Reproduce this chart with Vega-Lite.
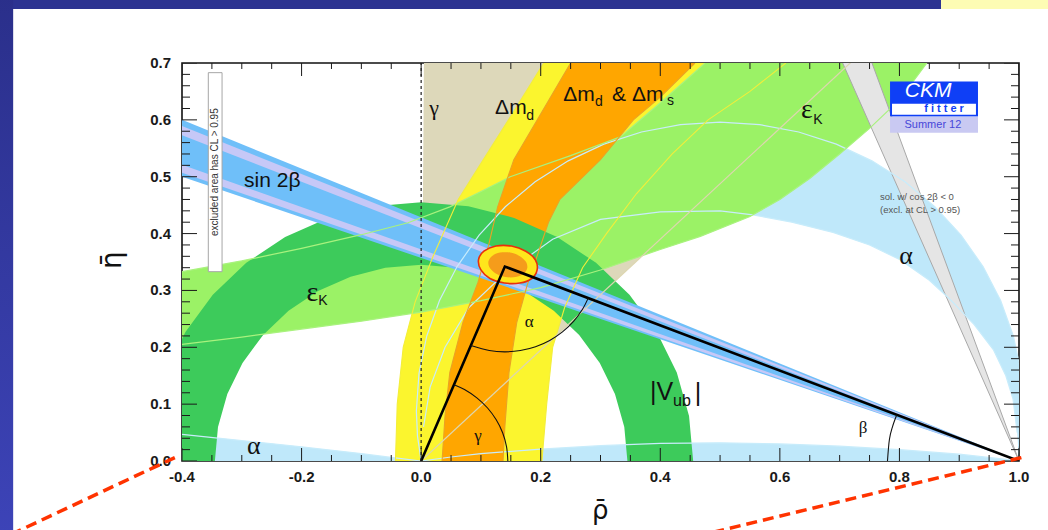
{
"$schema": "https://vega.github.io/schema/vega-lite/v6.json",
"width": 837,
"height": 398,
"autosize": {"type": "none"},
"padding": {"left": 182, "top": 63, "right": 29, "bottom": 69},
"background": "#ffffff",
"config": {"view": {"stroke": "#111111", "strokeWidth": 1.6}, "font": "Liberation Sans"},
"datasets": {
"bar": [{"x": -0.75, "x2": 0.8696, "y": 0.795, "y2": 0.83}],
"tab": [{"x": 0.8696, "x2": 1.1, "y": 0.795, "y2": 0.83}],
"strip": [{"x": -0.75, "x2": -0.6824, "y": -0.2, "y2": 0.83}],
"tan": [{"e": "g", "i": 0, "x": 0, "y": 0}, {"e": "g", "i": 1, "x": 0.769, "y": 0.75}, {"e": "x", "i": 2, "x": 0.005, "y": 0.75}],
"alpha": [
{"p": 1, "e": "o", "i": 0, "x": 1.0, "y": 0.0}, {"p": 1, "e": "o", "i": 1, "x": 1.0061, "y": 0.0437}, {"p": 1, "e": "o", "i": 2, "x": 1.008, "y": 0.088}, {"p": 1, "e": "o", "i": 3, "x": 1.0036, "y": 0.1543}, {"p": 1, "e": "o", "i": 4, "x": 0.9907, "y": 0.2195}, {"p": 1, "e": "o", "i": 5, "x": 0.9693, "y": 0.2824}, {"p": 1, "e": "o", "i": 6, "x": 0.9399, "y": 0.342}, {"p": 1, "e": "o", "i": 7, "x": 0.903, "y": 0.3973}, {"p": 1, "e": "o", "i": 8, "x": 0.8592, "y": 0.4472}, {"p": 1, "e": "o", "i": 9, "x": 0.8093, "y": 0.491}, {"p": 1, "e": "o", "i": 10, "x": 0.754, "y": 0.5279}, {"p": 1, "e": "o", "i": 11, "x": 0.6944, "y": 0.5573}, {"p": 1, "e": "o", "i": 12, "x": 0.6315, "y": 0.5787}, {"p": 1, "e": "o", "i": 13, "x": 0.5663, "y": 0.5916}, {"p": 1, "e": "o", "i": 14, "x": 0.5, "y": 0.596}, {"p": 1, "e": "o", "i": 15, "x": 0.4337, "y": 0.5916}, {"p": 1, "e": "o", "i": 16, "x": 0.3685, "y": 0.5787}, {"p": 1, "e": "o", "i": 17, "x": 0.3056, "y": 0.5573}, {"p": 1, "e": "o", "i": 18, "x": 0.246, "y": 0.5279}, {"p": 1, "e": "o", "i": 19, "x": 0.1907, "y": 0.491}, {"p": 1, "e": "o", "i": 20, "x": 0.1408, "y": 0.4472}, {"p": 1, "e": "o", "i": 21, "x": 0.097, "y": 0.3973}, {"p": 1, "e": "o", "i": 22, "x": 0.0601, "y": 0.342}, {"p": 1, "e": "o", "i": 23, "x": 0.0307, "y": 0.2824}, {"p": 1, "e": "o", "i": 24, "x": 0.0093, "y": 0.2195}, {"p": 1, "e": "o", "i": 25, "x": -0.0036, "y": 0.1543}, {"p": 1, "e": "o", "i": 26, "x": -0.008, "y": 0.088}, {"p": 1, "e": "o", "i": 27, "x": -0.0061, "y": 0.0437}, {"p": 1, "e": "o", "i": 28, "x": 0.0, "y": 0.0},
{"p": 1, "e": "n", "i": 29, "x": 0.004, "y": 0.06}, {"p": 1, "e": "n", "i": 30, "x": 0.015, "y": 0.13}, {"p": 1, "e": "n", "i": 31, "x": 0.04, "y": 0.2}, {"p": 1, "e": "n", "i": 32, "x": 0.08, "y": 0.27}, {"p": 1, "e": "n", "i": 33, "x": 0.14, "y": 0.33}, {"p": 1, "e": "n", "i": 34, "x": 0.22, "y": 0.39}, {"p": 1, "e": "n", "i": 35, "x": 0.3, "y": 0.425}, {"p": 1, "e": "n", "i": 36, "x": 0.4, "y": 0.438}, {"p": 1, "e": "n", "i": 37, "x": 0.5, "y": 0.44}, {"p": 1, "e": "n", "i": 38, "x": 0.555, "y": 0.433}, {"p": 1, "e": "n", "i": 39, "x": 0.62, "y": 0.42}, {"p": 1, "e": "n", "i": 40, "x": 0.689, "y": 0.402}, {"p": 1, "e": "n", "i": 41, "x": 0.75, "y": 0.38}, {"p": 1, "e": "n", "i": 42, "x": 0.801, "y": 0.354}, {"p": 1, "e": "n", "i": 43, "x": 0.85, "y": 0.318}, {"p": 1, "e": "n", "i": 44, "x": 0.885, "y": 0.284}, {"p": 1, "e": "n", "i": 45, "x": 0.925, "y": 0.24}, {"p": 1, "e": "n", "i": 46, "x": 0.957, "y": 0.196}, {"p": 1, "e": "n", "i": 47, "x": 0.978, "y": 0.15}, {"p": 1, "e": "n", "i": 48, "x": 0.99, "y": 0.109}, {"p": 1, "e": "n", "i": 49, "x": 0.997, "y": 0.05},
{"p": 2, "e": "x", "i": 0, "x": -0.42, "y": 0.049}, {"p": 2, "e": "bl", "i": 1, "x": -0.4, "y": 0.047}, {"p": 2, "e": "bl", "i": 2, "x": -0.3, "y": 0.036}, {"p": 2, "e": "bl", "i": 3, "x": -0.2, "y": 0.025}, {"p": 2, "e": "bl", "i": 4, "x": -0.1, "y": 0.013}, {"p": 2, "e": "bl", "i": 5, "x": -0.04, "y": 0.005}, {"p": 2, "e": "bl", "i": 6, "x": 0.0, "y": 0.0}, {"p": 2, "e": "x", "i": 7, "x": 0.0, "y": -0.01}, {"p": 2, "e": "x", "i": 8, "x": -0.42, "y": -0.01},
{"p": 3, "e": "br", "i": 0, "x": 0.0, "y": 0.0}, {"p": 3, "e": "br", "i": 1, "x": 0.05, "y": 0.007}, {"p": 3, "e": "br", "i": 2, "x": 0.1, "y": 0.013}, {"p": 3, "e": "br", "i": 3, "x": 0.2, "y": 0.021}, {"p": 3, "e": "br", "i": 4, "x": 0.3, "y": 0.027}, {"p": 3, "e": "br", "i": 5, "x": 0.4, "y": 0.031}, {"p": 3, "e": "br", "i": 6, "x": 0.5, "y": 0.032}, {"p": 3, "e": "br", "i": 7, "x": 0.6, "y": 0.03}, {"p": 3, "e": "br", "i": 8, "x": 0.7, "y": 0.026}, {"p": 3, "e": "br", "i": 9, "x": 0.8, "y": 0.02}, {"p": 3, "e": "br", "i": 10, "x": 0.9, "y": 0.012}, {"p": 3, "e": "br", "i": 11, "x": 0.96, "y": 0.005}, {"p": 3, "e": "br", "i": 12, "x": 1.0, "y": 0.0}, {"p": 3, "e": "x", "i": 13, "x": 1.0, "y": -0.01}, {"p": 3, "e": "x", "i": 14, "x": 0.0, "y": -0.01}
],
"dmd": [
{"e": "x", "i": 0, "x": -0.043, "y": -0.01}, {"e": "l", "i": 1, "x": -0.043, "y": 0.0}, {"e": "l", "i": 2, "x": -0.04, "y": 0.1}, {"e": "l", "i": 3, "x": -0.03, "y": 0.2}, {"e": "l", "i": 4, "x": -0.01, "y": 0.28}, {"e": "l", "i": 5, "x": 0.02, "y": 0.36}, {"e": "l", "i": 6, "x": 0.062, "y": 0.46}, {"e": "l", "i": 7, "x": 0.104, "y": 0.53}, {"e": "l", "i": 8, "x": 0.149, "y": 0.605}, {"e": "l", "i": 9, "x": 0.205, "y": 0.7}, {"e": "x", "i": 10, "x": 0.26, "y": 0.78}, {"e": "x", "i": 11, "x": 0.7, "y": 0.78}, {"e": "r", "i": 12, "x": 0.61, "y": 0.7}, {"e": "r", "i": 13, "x": 0.55, "y": 0.65}, {"e": "r", "i": 14, "x": 0.48, "y": 0.6}, {"e": "r", "i": 15, "x": 0.42, "y": 0.54}, {"e": "r", "i": 16, "x": 0.36, "y": 0.47}, {"e": "r", "i": 17, "x": 0.31, "y": 0.4}, {"e": "r", "i": 18, "x": 0.27, "y": 0.34}, {"e": "r", "i": 19, "x": 0.24, "y": 0.27}, {"e": "r", "i": 20, "x": 0.22, "y": 0.2}, {"e": "r", "i": 21, "x": 0.21, "y": 0.1}, {"e": "r", "i": 22, "x": 0.202, "y": 0.0}, {"e": "x", "i": 23, "x": 0.202, "y": -0.01}
],
"dms": [
{"e": "x", "i": 0, "x": 0.035, "y": -0.01}, {"e": "l", "i": 1, "x": 0.035, "y": 0.0}, {"e": "l", "i": 2, "x": 0.04, "y": 0.08}, {"e": "l", "i": 3, "x": 0.048, "y": 0.156}, {"e": "l", "i": 4, "x": 0.07, "y": 0.244}, {"e": "l", "i": 5, "x": 0.095, "y": 0.314}, {"e": "l", "i": 6, "x": 0.113, "y": 0.38}, {"e": "l", "i": 7, "x": 0.128, "y": 0.447}, {"e": "l", "i": 8, "x": 0.155, "y": 0.53}, {"e": "l", "i": 9, "x": 0.197, "y": 0.605}, {"e": "l", "i": 10, "x": 0.25, "y": 0.7}, {"e": "x", "i": 11, "x": 0.29, "y": 0.76}, {"e": "x", "i": 12, "x": 0.5, "y": 0.76}, {"e": "r", "i": 13, "x": 0.458, "y": 0.7}, {"e": "r", "i": 14, "x": 0.4, "y": 0.64}, {"e": "r", "i": 15, "x": 0.355, "y": 0.6}, {"e": "r", "i": 16, "x": 0.3, "y": 0.53}, {"e": "r", "i": 17, "x": 0.232, "y": 0.46}, {"e": "r", "i": 18, "x": 0.213, "y": 0.42}, {"e": "r", "i": 19, "x": 0.197, "y": 0.37}, {"e": "r", "i": 20, "x": 0.177, "y": 0.308}, {"e": "r", "i": 21, "x": 0.16, "y": 0.244}, {"e": "r", "i": 22, "x": 0.147, "y": 0.156}, {"e": "r", "i": 23, "x": 0.14, "y": 0.06}, {"e": "r", "i": 24, "x": 0.137, "y": 0.0}, {"e": "x", "i": 25, "x": 0.137, "y": -0.01}
],
"ek": [
{"e": "x", "i": 0, "x": -0.42, "y": 0.203}, {"e": "lo", "i": 1, "x": -0.4, "y": 0.205}, {"e": "lo", "i": 2, "x": -0.3, "y": 0.218}, {"e": "lo", "i": 3, "x": -0.2, "y": 0.232}, {"e": "lo", "i": 4, "x": -0.1, "y": 0.246}, {"e": "lo", "i": 5, "x": 0.0, "y": 0.262}, {"e": "lo", "i": 6, "x": 0.1, "y": 0.282}, {"e": "lo", "i": 7, "x": 0.2, "y": 0.305}, {"e": "lo", "i": 8, "x": 0.3, "y": 0.336}, {"e": "lo", "i": 9, "x": 0.4, "y": 0.372}, {"e": "lo", "i": 10, "x": 0.467, "y": 0.395}, {"e": "lo", "i": 11, "x": 0.55, "y": 0.43}, {"e": "lo", "i": 12, "x": 0.6, "y": 0.46}, {"e": "lo", "i": 13, "x": 0.65, "y": 0.497}, {"e": "lo", "i": 14, "x": 0.7, "y": 0.54}, {"e": "lo", "i": 15, "x": 0.75, "y": 0.585}, {"e": "lo", "i": 16, "x": 0.8, "y": 0.635}, {"e": "lo", "i": 17, "x": 0.846, "y": 0.7}, {"e": "x", "i": 18, "x": 0.9, "y": 0.78}, {"e": "x", "i": 19, "x": 0.55, "y": 0.78}, {"e": "up", "i": 20, "x": 0.475, "y": 0.7}, {"e": "up", "i": 21, "x": 0.4, "y": 0.63}, {"e": "up", "i": 22, "x": 0.333, "y": 0.57}, {"e": "up", "i": 23, "x": 0.25, "y": 0.537}, {"e": "up", "i": 24, "x": 0.149, "y": 0.5}, {"e": "up", "i": 25, "x": 0.1, "y": 0.474}, {"e": "up", "i": 26, "x": 0.048, "y": 0.447}, {"e": "up", "i": 27, "x": -0.022, "y": 0.419}, {"e": "up", "i": 28, "x": -0.1, "y": 0.398}, {"e": "up", "i": 29, "x": -0.2, "y": 0.374}, {"e": "up", "i": 30, "x": -0.3, "y": 0.352}, {"e": "up", "i": 31, "x": -0.4, "y": 0.333}, {"e": "x", "i": 32, "x": -0.42, "y": 0.33}
],
"vub": [
{"i": 0, "x": 0.455, "y": 0}, {"i": 1, "x": 0.4481, "y": 0.079}, {"i": 2, "x": 0.4276, "y": 0.1556}, {"i": 3, "x": 0.394, "y": 0.2275}, {"i": 4, "x": 0.3485, "y": 0.2925}, {"i": 5, "x": 0.2925, "y": 0.3485}, {"i": 6, "x": 0.2275, "y": 0.394}, {"i": 7, "x": 0.1556, "y": 0.4276}, {"i": 8, "x": 0.079, "y": 0.4481}, {"i": 9, "x": 0, "y": 0.455}, {"i": 10, "x": -0.079, "y": 0.4481}, {"i": 11, "x": -0.1556, "y": 0.4276}, {"i": 12, "x": -0.2275, "y": 0.394}, {"i": 13, "x": -0.2925, "y": 0.3485}, {"i": 14, "x": -0.3485, "y": 0.2925}, {"i": 15, "x": -0.394, "y": 0.2275}, {"i": 16, "x": -0.4276, "y": 0.1556}, {"i": 17, "x": -0.4481, "y": 0.079}, {"i": 18, "x": -0.455, "y": 0},
{"i": 19, "x": -0.345, "y": 0}, {"i": 20, "x": -0.3398, "y": 0.0599}, {"i": 21, "x": -0.3242, "y": 0.118}, {"i": 22, "x": -0.2988, "y": 0.1725}, {"i": 23, "x": -0.2643, "y": 0.2218}, {"i": 24, "x": -0.2218, "y": 0.2643}, {"i": 25, "x": -0.1725, "y": 0.2988}, {"i": 26, "x": -0.118, "y": 0.3242}, {"i": 27, "x": -0.0599, "y": 0.3398}, {"i": 28, "x": 0, "y": 0.345}, {"i": 29, "x": 0.0599, "y": 0.3398}, {"i": 30, "x": 0.118, "y": 0.3242}, {"i": 31, "x": 0.1725, "y": 0.2988}, {"i": 32, "x": 0.2218, "y": 0.2643}, {"i": 33, "x": 0.2643, "y": 0.2218}, {"i": 34, "x": 0.2988, "y": 0.1725}, {"i": 35, "x": 0.3242, "y": 0.118}, {"i": 36, "x": 0.3398, "y": 0.0599}, {"i": 37, "x": 0.345, "y": 0}
],
"s2b": [{"i": 0, "x": 1.0, "y": 0.0}, {"i": 1, "x": -0.4, "y": 0.6}, {"i": 2, "x": -0.4, "y": 0.5}],
"s2bl": [{"p": 1, "i": 0, "x": 1.0, "y": 0.0}, {"p": 1, "i": 1, "x": -0.4, "y": 0.589}, {"p": 1, "i": 2, "x": -0.4, "y": 0.573}, {"p": 2, "i": 0, "x": 1.0, "y": 0.0}, {"p": 2, "i": 1, "x": -0.4, "y": 0.521}, {"p": 2, "i": 2, "x": -0.4, "y": 0.507}],
"c2b": [{"i": 0, "x": 1.0, "y": 0.0}, {"i": 1, "x": 0.684, "y": 0.75}, {"i": 2, "x": 0.7365, "y": 0.75}],
"ell": [{"i": 0, "x": 0.194, "y": 0.336}, {"i": 1, "x": 0.191, "y": 0.354}, {"i": 2, "x": 0.175, "y": 0.369}, {"i": 3, "x": 0.151, "y": 0.378}, {"i": 4, "x": 0.125, "y": 0.378}, {"i": 5, "x": 0.105, "y": 0.369}, {"i": 6, "x": 0.096, "y": 0.354}, {"i": 7, "x": 0.1, "y": 0.336}, {"i": 8, "x": 0.115, "y": 0.321}, {"i": 9, "x": 0.139, "y": 0.313}, {"i": 10, "x": 0.165, "y": 0.313}, {"i": 11, "x": 0.185, "y": 0.321}],
"elli": [{"i": 0, "x": 0.1775, "y": 0.3393}, {"i": 1, "x": 0.175, "y": 0.3507}, {"i": 2, "x": 0.1645, "y": 0.3607}, {"i": 3, "x": 0.1488, "y": 0.3665}, {"i": 4, "x": 0.132, "y": 0.3665}, {"i": 5, "x": 0.1187, "y": 0.3607}, {"i": 6, "x": 0.1125, "y": 0.3507}, {"i": 7, "x": 0.115, "y": 0.3393}, {"i": 8, "x": 0.1255, "y": 0.3293}, {"i": 9, "x": 0.1412, "y": 0.3236}, {"i": 10, "x": 0.158, "y": 0.3236}, {"i": 11, "x": 0.1713, "y": 0.3293}],
"tri": [{"i": 0, "x": 0.0, "y": 0.0}, {"i": 1, "x": 0.14, "y": 0.342}, {"i": 2, "x": 1.0, "y": 0.0}],
"arcs": [
{"p": "g", "i": 0, "x": 0.145, "y": 0.0}, {"p": "g", "i": 1, "x": 0.1428, "y": 0.0252}, {"p": "g", "i": 2, "x": 0.1363, "y": 0.0496}, {"p": "g", "i": 3, "x": 0.1256, "y": 0.0725}, {"p": "g", "i": 4, "x": 0.1111, "y": 0.0932}, {"p": "g", "i": 5, "x": 0.0932, "y": 0.1111}, {"p": "g", "i": 6, "x": 0.0725, "y": 0.1256}, {"p": "g", "i": 7, "x": 0.055, "y": 0.1342},
{"p": "a", "i": 0, "x": 0.0831, "y": 0.2032}, {"p": "a", "i": 1, "x": 0.114, "y": 0.1943}, {"p": "a", "i": 2, "x": 0.14, "y": 0.192}, {"p": "a", "i": 3, "x": 0.166, "y": 0.1943}, {"p": "a", "i": 4, "x": 0.1913, "y": 0.201}, {"p": "a", "i": 5, "x": 0.215, "y": 0.2121}, {"p": "a", "i": 6, "x": 0.2364, "y": 0.2271}, {"p": "a", "i": 7, "x": 0.2549, "y": 0.2456}, {"p": "a", "i": 8, "x": 0.2699, "y": 0.267}, {"p": "a", "i": 9, "x": 0.2794, "y": 0.2865},
{"p": "b", "i": 0, "x": 0.78, "y": 0.0}, {"p": "b", "i": 1, "x": 0.7833, "y": 0.0382}, {"p": "b", "i": 2, "x": 0.7885, "y": 0.0606}, {"p": "b", "i": 3, "x": 0.7956, "y": 0.0813}
],
"red": [{"p": 1, "i": 0, "x": -0.412, "y": 0.006}, {"p": 1, "i": 1, "x": -0.7, "y": -0.136}, {"p": 2, "i": 0, "x": 1.004, "y": 0.006}, {"p": 2, "i": 1, "x": 0.47, "y": -0.13}],
"xtb": [{"x": -0.4, "y": 0, "m": 1}, {"x": -0.35, "y": 0, "m": 0}, {"x": -0.3, "y": 0, "m": 0}, {"x": -0.25, "y": 0, "m": 0}, {"x": -0.2, "y": 0, "m": 1}, {"x": -0.15, "y": 0, "m": 0}, {"x": -0.1, "y": 0, "m": 0}, {"x": -0.05, "y": 0, "m": 0}, {"x": 0, "y": 0, "m": 1}, {"x": 0.05, "y": 0, "m": 0}, {"x": 0.1, "y": 0, "m": 0}, {"x": 0.15, "y": 0, "m": 0}, {"x": 0.2, "y": 0, "m": 1}, {"x": 0.25, "y": 0, "m": 0}, {"x": 0.3, "y": 0, "m": 0}, {"x": 0.35, "y": 0, "m": 0}, {"x": 0.4, "y": 0, "m": 1}, {"x": 0.45, "y": 0, "m": 0}, {"x": 0.5, "y": 0, "m": 0}, {"x": 0.55, "y": 0, "m": 0}, {"x": 0.6, "y": 0, "m": 1}, {"x": 0.65, "y": 0, "m": 0}, {"x": 0.7, "y": 0, "m": 0}, {"x": 0.75, "y": 0, "m": 0}, {"x": 0.8, "y": 0, "m": 1}, {"x": 0.85, "y": 0, "m": 0}, {"x": 0.9, "y": 0, "m": 0}, {"x": 0.95, "y": 0, "m": 0}, {"x": 1.0, "y": 0, "m": 1},
{"x": -0.4, "y": 0.7, "m": 1}, {"x": -0.35, "y": 0.7, "m": 0}, {"x": -0.3, "y": 0.7, "m": 0}, {"x": -0.25, "y": 0.7, "m": 0}, {"x": -0.2, "y": 0.7, "m": 1}, {"x": -0.15, "y": 0.7, "m": 0}, {"x": -0.1, "y": 0.7, "m": 0}, {"x": -0.05, "y": 0.7, "m": 0}, {"x": 0, "y": 0.7, "m": 1}, {"x": 0.05, "y": 0.7, "m": 0}, {"x": 0.1, "y": 0.7, "m": 0}, {"x": 0.15, "y": 0.7, "m": 0}, {"x": 0.2, "y": 0.7, "m": 1}, {"x": 0.25, "y": 0.7, "m": 0}, {"x": 0.3, "y": 0.7, "m": 0}, {"x": 0.35, "y": 0.7, "m": 0}, {"x": 0.4, "y": 0.7, "m": 1}, {"x": 0.45, "y": 0.7, "m": 0}, {"x": 0.5, "y": 0.7, "m": 0}, {"x": 0.55, "y": 0.7, "m": 0}, {"x": 0.6, "y": 0.7, "m": 1}, {"x": 0.65, "y": 0.7, "m": 0}, {"x": 0.7, "y": 0.7, "m": 0}, {"x": 0.75, "y": 0.7, "m": 0}, {"x": 0.8, "y": 0.7, "m": 1}, {"x": 0.85, "y": 0.7, "m": 0}, {"x": 0.9, "y": 0.7, "m": 0}, {"x": 0.95, "y": 0.7, "m": 0}, {"x": 1.0, "y": 0.7, "m": 1}],
"ytb": [{"x": -0.4, "y": 0, "m": 1}, {"x": -0.4, "y": 0.02, "m": 0}, {"x": -0.4, "y": 0.04, "m": 0}, {"x": -0.4, "y": 0.06, "m": 0}, {"x": -0.4, "y": 0.08, "m": 0}, {"x": -0.4, "y": 0.1, "m": 1}, {"x": -0.4, "y": 0.12, "m": 0}, {"x": -0.4, "y": 0.14, "m": 0}, {"x": -0.4, "y": 0.16, "m": 0}, {"x": -0.4, "y": 0.18, "m": 0}, {"x": -0.4, "y": 0.2, "m": 1}, {"x": -0.4, "y": 0.22, "m": 0}, {"x": -0.4, "y": 0.24, "m": 0}, {"x": -0.4, "y": 0.26, "m": 0}, {"x": -0.4, "y": 0.28, "m": 0}, {"x": -0.4, "y": 0.3, "m": 1}, {"x": -0.4, "y": 0.32, "m": 0}, {"x": -0.4, "y": 0.34, "m": 0}, {"x": -0.4, "y": 0.36, "m": 0}, {"x": -0.4, "y": 0.38, "m": 0}, {"x": -0.4, "y": 0.4, "m": 1}, {"x": -0.4, "y": 0.42, "m": 0}, {"x": -0.4, "y": 0.44, "m": 0}, {"x": -0.4, "y": 0.46, "m": 0}, {"x": -0.4, "y": 0.48, "m": 0}, {"x": -0.4, "y": 0.5, "m": 1}, {"x": -0.4, "y": 0.52, "m": 0}, {"x": -0.4, "y": 0.54, "m": 0}, {"x": -0.4, "y": 0.56, "m": 0}, {"x": -0.4, "y": 0.58, "m": 0}, {"x": -0.4, "y": 0.6, "m": 1}, {"x": -0.4, "y": 0.62, "m": 0}, {"x": -0.4, "y": 0.64, "m": 0}, {"x": -0.4, "y": 0.66, "m": 0}, {"x": -0.4, "y": 0.68, "m": 0}, {"x": -0.4, "y": 0.7, "m": 1},
{"x": 1.0, "y": 0, "m": 1}, {"x": 1.0, "y": 0.02, "m": 0}, {"x": 1.0, "y": 0.04, "m": 0}, {"x": 1.0, "y": 0.06, "m": 0}, {"x": 1.0, "y": 0.08, "m": 0}, {"x": 1.0, "y": 0.1, "m": 1}, {"x": 1.0, "y": 0.12, "m": 0}, {"x": 1.0, "y": 0.14, "m": 0}, {"x": 1.0, "y": 0.16, "m": 0}, {"x": 1.0, "y": 0.18, "m": 0}, {"x": 1.0, "y": 0.2, "m": 1}, {"x": 1.0, "y": 0.22, "m": 0}, {"x": 1.0, "y": 0.24, "m": 0}, {"x": 1.0, "y": 0.26, "m": 0}, {"x": 1.0, "y": 0.28, "m": 0}, {"x": 1.0, "y": 0.3, "m": 1}, {"x": 1.0, "y": 0.32, "m": 0}, {"x": 1.0, "y": 0.34, "m": 0}, {"x": 1.0, "y": 0.36, "m": 0}, {"x": 1.0, "y": 0.38, "m": 0}, {"x": 1.0, "y": 0.4, "m": 1}, {"x": 1.0, "y": 0.42, "m": 0}, {"x": 1.0, "y": 0.44, "m": 0}, {"x": 1.0, "y": 0.46, "m": 0}, {"x": 1.0, "y": 0.48, "m": 0}, {"x": 1.0, "y": 0.5, "m": 1}, {"x": 1.0, "y": 0.52, "m": 0}, {"x": 1.0, "y": 0.54, "m": 0}, {"x": 1.0, "y": 0.56, "m": 0}, {"x": 1.0, "y": 0.58, "m": 0}, {"x": 1.0, "y": 0.6, "m": 1}, {"x": 1.0, "y": 0.62, "m": 0}, {"x": 1.0, "y": 0.64, "m": 0}, {"x": 1.0, "y": 0.66, "m": 0}, {"x": 1.0, "y": 0.68, "m": 0}, {"x": 1.0, "y": 0.7, "m": 1}],
"xl": [{"x": -0.4, "y": 0, "t": "-0.4"}, {"x": -0.2, "y": 0, "t": "-0.2"}, {"x": 0, "y": 0, "t": "0.0"}, {"x": 0.2, "y": 0, "t": "0.2"}, {"x": 0.4, "y": 0, "t": "0.4"}, {"x": 0.6, "y": 0, "t": "0.6"}, {"x": 0.8, "y": 0, "t": "0.8"}, {"x": 1.0, "y": 0, "t": "1.0"}],
"yl": [{"x": -0.4, "y": 0, "t": "0.0"}, {"x": -0.4, "y": 0.1, "t": "0.1"}, {"x": -0.4, "y": 0.2, "t": "0.2"}, {"x": -0.4, "y": 0.3, "t": "0.3"}, {"x": -0.4, "y": 0.4, "t": "0.4"}, {"x": -0.4, "y": 0.5, "t": "0.5"}, {"x": -0.4, "y": 0.6, "t": "0.6"}, {"x": -0.4, "y": 0.7, "t": "0.7"}],
"xtitle": [{"x": 0.2994, "y": -0.088, "t": "\u03c1\u0304"}],
"ytitle": [{"x": -0.515, "y": 0.3535, "t": "\u03b7\u0304"}],
"t20": [{"x": 0.1237, "y": 0.62, "t": "Δm"}, {"x": 0.2375, "y": 0.644, "t": "Δm"}, {"x": 0.3194, "y": 0.644, "t": "&"}, {"x": 0.3528, "y": 0.644, "t": "Δm"}],
"tsin": [{"x": -0.249, "y": 0.493, "t": "sin 2β"}],
"tsub": [{"x": 0.1756, "y": 0.607, "t": "d"}, {"x": 0.291, "y": 0.631, "t": "d"}, {"x": 0.4114, "y": 0.633, "t": "s"}, {"x": 0.656, "y": 0.6, "t": "K"}, {"x": -0.172, "y": 0.282, "t": "K"}],
"teps": [{"x": 0.645, "y": 0.618, "t": "ε"}, {"x": -0.182, "y": 0.296, "t": "ε"}],
"tv": [{"x": 0.383, "y": 0.122, "t": "|V"}],
"tvbar": [{"x": 0.4632, "y": 0.12, "t": "|"}],
"tvsub": [{"x": 0.4214, "y": 0.106, "t": "ub"}],
"tgr": [{"x": 0.0217, "y": 0.621, "t": "γ"}],
"talpha": [{"x": 0.811, "y": 0.361, "t": "α"}, {"x": -0.28, "y": 0.026, "t": "α"}],
"ttri": [{"x": 0.1806, "y": 0.245, "t": "α"}, {"x": 0.0953, "y": 0.044, "t": "γ"}, {"x": 0.739, "y": 0.058, "t": "β"}],
"tnote": [{"x": 0.7676, "y": 0.4648, "t": "sol. w/ cos 2β < 0"}, {"x": 0.7676, "y": 0.442, "t": "(excl. at CL > 0.95)"}],
"exbox": [{"x": -0.356, "x2": -0.333, "y": 0.333, "y2": 0.683}],
"extext": [{"x": -0.3445, "y": 0.508, "t": "excluded area has CL > 0.95"}],
"logo": [{"x": 0.7843, "x2": 0.9314, "y": 0.606, "y2": 0.6673}],
"logow": [{"x": 0.7876, "x2": 0.928, "y": 0.609, "y2": 0.6285}],
"logos": [{"x": 0.7843, "x2": 0.9314, "y": 0.5775, "y2": 0.6056}],
"tckm": [{"x": 0.848, "y": 0.651, "t": "CKM"}],
"tfit": [{"x": 0.8746, "y": 0.6185, "t": "f i t t e r"}],
"tsum": [{"x": 0.856, "y": 0.5915, "t": "Summer 12"}]
},
"encoding": {
"x": {"field": "x", "type": "quantitative", "scale": {"domain": [-0.4, 1.0], "nice": false, "zero": false}, "axis": null},
"y": {"field": "y", "type": "quantitative", "scale": {"domain": [0, 0.7], "nice": false, "zero": false}, "axis": null}
},
"layer": [
{"data": {"name": "bar"}, "mark": {"type": "rect", "fill": "#2c3391"}, "encoding": {"x2": {"field": "x2"}, "y2": {"field": "y2"}}},
{"data": {"name": "tab"}, "mark": {"type": "rect", "fill": "#fdfcb4"}, "encoding": {"x2": {"field": "x2"}, "y2": {"field": "y2"}}},
{"data": {"name": "strip"}, "mark": {"type": "rect", "fill": {"gradient": "linear", "x1": 0, "y1": 0, "x2": 0, "y2": 1, "stops": [{"offset": 0, "color": "#2a2f8a"}, {"offset": 1, "color": "#3e45bb"}]}}, "encoding": {"x2": {"field": "x2"}, "y2": {"field": "y2"}}},

{"data": {"name": "tan"}, "mark": {"type": "line", "interpolate": "linear-closed", "fill": "#ddd8ba", "strokeWidth": 0, "strokeOpacity": 0, "clip": true}, "encoding": {"order": {"field": "i"}}},
{"data": {"name": "alpha"}, "mark": {"type": "line", "interpolate": "linear-closed", "fill": "#bfe8fa", "strokeWidth": 0, "strokeOpacity": 0, "clip": true}, "encoding": {"detail": {"field": "p"}, "order": {"field": "i"}}},
{"data": {"name": "dmd"}, "mark": {"type": "line", "interpolate": "linear-closed", "fill": "#fbf52e", "strokeWidth": 0, "strokeOpacity": 0, "clip": true}, "encoding": {"order": {"field": "i"}}},
{"data": {"name": "ek"}, "mark": {"type": "line", "interpolate": "linear-closed", "fill": "#9bf266", "strokeWidth": 0, "strokeOpacity": 0, "clip": true}, "encoding": {"order": {"field": "i"}}},
{"data": {"name": "dms"}, "mark": {"type": "line", "interpolate": "linear-closed", "fill": "#ffa600", "strokeWidth": 0, "strokeOpacity": 0, "clip": true}, "encoding": {"order": {"field": "i"}}},
{"data": {"name": "vub"}, "mark": {"type": "line", "interpolate": "linear-closed", "fill": "#3dcb5b", "strokeWidth": 0, "strokeOpacity": 0, "clip": true}, "encoding": {"order": {"field": "i"}}},
{"data": {"name": "s2b"}, "mark": {"type": "line", "interpolate": "linear-closed", "fill": "#6fbff9", "strokeWidth": 0, "strokeOpacity": 0, "clip": true}, "encoding": {"order": {"field": "i"}}},
{"data": {"name": "s2bl"}, "mark": {"type": "line", "interpolate": "linear-closed", "fill": "#c6c8f7", "strokeWidth": 0, "strokeOpacity": 0, "clip": true}, "encoding": {"detail": {"field": "p"}, "order": {"field": "i"}}},
{"data": {"name": "c2b"}, "mark": {"type": "line", "interpolate": "linear-closed", "fill": "#e5e5e5", "stroke": "#a8a8a8", "strokeWidth": 1, "clip": true}, "encoding": {"order": {"field": "i"}}},

{"data": {"name": "alpha"}, "transform": [{"filter": "datum.e != 'x'"}], "mark": {"type": "line", "stroke": "#c8ecfb", "strokeWidth": 1.2, "clip": true}, "encoding": {"detail": {"field": "e"}, "order": {"field": "i"}}},
{"data": {"name": "ek"}, "transform": [{"filter": "datum.e != 'x'"}], "mark": {"type": "line", "stroke": "#a9f27e", "strokeWidth": 1.2, "clip": true}, "encoding": {"detail": {"field": "e"}, "order": {"field": "i"}}},
{"data": {"name": "dmd"}, "transform": [{"filter": "datum.e != 'x'"}], "mark": {"type": "line", "stroke": "#f3ee3a", "strokeWidth": 1.1, "clip": true}, "encoding": {"detail": {"field": "e"}, "order": {"field": "i"}}},
{"data": {"name": "dms"}, "transform": [{"filter": "datum.e != 'x'"}], "mark": {"type": "line", "stroke": "#eaa325", "strokeWidth": 1.1, "clip": true}, "encoding": {"detail": {"field": "e"}, "order": {"field": "i"}}},
{"data": {"name": "tan"}, "transform": [{"filter": "datum.e != 'x'"}], "mark": {"type": "line", "stroke": "#ddd6b0", "strokeWidth": 1.2, "clip": true}, "encoding": {"order": {"field": "i"}}},

{"data": {"values": [{"x": 0, "y": 0, "y2": 0.7}]}, "mark": {"type": "rule", "color": "#222222", "strokeWidth": 1.2, "strokeDash": [3, 3], "clip": true}, "encoding": {"y2": {"field": "y2"}}},

{"data": {"name": "ell"}, "mark": {"type": "line", "interpolate": "cardinal-closed", "fill": "#ffe61c", "stroke": "#e8300c", "strokeWidth": 1.6, "clip": true}, "encoding": {"order": {"field": "i"}}},
{"data": {"name": "elli"}, "mark": {"type": "line", "interpolate": "cardinal-closed", "fill": "#ee6a1a", "fillOpacity": 0.6, "strokeWidth": 0, "strokeOpacity": 0, "clip": true}, "encoding": {"order": {"field": "i"}}},
{"data": {"name": "tri"}, "mark": {"type": "line", "stroke": "#000000", "strokeWidth": 2.6, "strokeJoin": "miter", "clip": true}, "encoding": {"order": {"field": "i"}}},
{"data": {"name": "arcs"}, "mark": {"type": "line", "interpolate": "cardinal", "stroke": "#111111", "strokeWidth": 1.1, "clip": true}, "encoding": {"detail": {"field": "p"}, "order": {"field": "i"}}},

{"data": {"name": "t20"}, "mark": {"type": "text", "font": "Liberation Sans", "fontSize": 21, "align": "left", "baseline": "middle", "color": "#111111"}, "encoding": {"text": {"field": "t"}}},
{"data": {"name": "tsin"}, "mark": {"type": "text", "font": "Liberation Sans", "fontSize": 21, "align": "center", "baseline": "middle", "color": "#111111"}, "encoding": {"text": {"field": "t"}}},
{"data": {"name": "tsub"}, "mark": {"type": "text", "font": "Liberation Sans", "fontSize": 14, "align": "left", "baseline": "middle", "color": "#111111"}, "encoding": {"text": {"field": "t"}}},
{"data": {"name": "teps"}, "mark": {"type": "text", "font": "Liberation Serif", "fontSize": 28, "align": "center", "baseline": "middle", "color": "#111111"}, "encoding": {"text": {"field": "t"}}},
{"data": {"name": "tv"}, "mark": {"type": "text", "font": "Liberation Sans", "fontSize": 25, "align": "left", "baseline": "middle", "color": "#111111"}, "encoding": {"text": {"field": "t"}}},
{"data": {"name": "tvbar"}, "mark": {"type": "text", "font": "Liberation Sans", "fontSize": 25, "align": "center", "baseline": "middle", "color": "#111111"}, "encoding": {"text": {"field": "t"}}},
{"data": {"name": "tvsub"}, "mark": {"type": "text", "font": "Liberation Sans", "fontSize": 16, "align": "left", "baseline": "middle", "color": "#111111"}, "encoding": {"text": {"field": "t"}}},
{"data": {"name": "tgr"}, "mark": {"type": "text", "font": "Liberation Serif", "fontSize": 22, "align": "center", "baseline": "middle", "color": "#111111"}, "encoding": {"text": {"field": "t"}}},
{"data": {"name": "talpha"}, "mark": {"type": "text", "font": "Liberation Serif", "fontSize": 26, "align": "center", "baseline": "middle", "color": "#111111"}, "encoding": {"text": {"field": "t"}}},
{"data": {"name": "ttri"}, "mark": {"type": "text", "font": "Liberation Serif", "fontSize": 17, "align": "center", "baseline": "middle", "color": "#111111"}, "encoding": {"text": {"field": "t"}}},
{"data": {"name": "tnote"}, "mark": {"type": "text", "font": "Liberation Sans", "fontSize": 9.5, "align": "left", "baseline": "middle", "color": "#555555"}, "encoding": {"text": {"field": "t"}}},

{"data": {"name": "exbox"}, "mark": {"type": "rect", "fill": "#ffffff", "stroke": "#a6a6a6", "strokeWidth": 1}, "encoding": {"x2": {"field": "x2"}, "y2": {"field": "y2"}}},
{"data": {"name": "extext"}, "mark": {"type": "text", "font": "Liberation Sans", "fontSize": 10, "angle": 270, "align": "center", "baseline": "middle", "color": "#333333"}, "encoding": {"text": {"field": "t"}}},

{"data": {"name": "logo"}, "mark": {"type": "rect", "fill": "#0f3ff6"}, "encoding": {"x2": {"field": "x2"}, "y2": {"field": "y2"}}},
{"data": {"name": "logow"}, "mark": {"type": "rect", "fill": "#ffffff"}, "encoding": {"x2": {"field": "x2"}, "y2": {"field": "y2"}}},
{"data": {"name": "logos"}, "mark": {"type": "rect", "fill": "#c9c9f2"}, "encoding": {"x2": {"field": "x2"}, "y2": {"field": "y2"}}},
{"data": {"name": "tckm"}, "mark": {"type": "text", "font": "Liberation Sans", "fontSize": 21, "fontStyle": "italic", "align": "center", "baseline": "middle", "color": "#ffffff"}, "encoding": {"text": {"field": "t"}}},
{"data": {"name": "tfit"}, "mark": {"type": "text", "font": "Liberation Sans", "fontSize": 11, "fontWeight": "bold", "align": "center", "baseline": "middle", "color": "#0f3ff6"}, "encoding": {"text": {"field": "t"}}},
{"data": {"name": "tsum"}, "mark": {"type": "text", "font": "Liberation Sans", "fontSize": 11, "align": "center", "baseline": "middle", "color": "#4747d9"}, "encoding": {"text": {"field": "t"}}},

{"data": {"name": "xtb"}, "mark": {"type": "tick", "orient": "vertical", "thickness": 1, "color": "#1a1a1a", "opacity": 1, "clip": true},
 "encoding": {"size": {"condition": {"test": "datum.m == 1", "value": 26}, "value": 12}}},
{"data": {"name": "ytb"}, "mark": {"type": "tick", "orient": "horizontal", "thickness": 1, "color": "#1a1a1a", "opacity": 1, "clip": true},
 "encoding": {"size": {"condition": {"test": "datum.m == 1", "value": 30}, "value": 16}}},

{"data": {"name": "xl"}, "mark": {"type": "text", "font": "Liberation Sans", "fontSize": 15, "fontWeight": "bold", "align": "center", "baseline": "top", "dy": 9, "color": "#1a1a1a"}, "encoding": {"text": {"field": "t"}}},
{"data": {"name": "yl"}, "mark": {"type": "text", "font": "Liberation Sans", "fontSize": 15, "fontWeight": "bold", "align": "right", "baseline": "middle", "dx": -11, "color": "#1a1a1a"}, "encoding": {"text": {"field": "t"}}},
{"data": {"name": "xtitle"}, "mark": {"type": "text", "font": "DejaVu Sans", "fontSize": 26, "align": "center", "baseline": "middle", "color": "#111111"}, "encoding": {"text": {"field": "t"}}},
{"data": {"name": "ytitle"}, "mark": {"type": "text", "font": "DejaVu Sans", "fontSize": 28, "angle": 270, "align": "center", "baseline": "middle", "color": "#111111"}, "encoding": {"text": {"field": "t"}}},

{"data": {"name": "red"}, "mark": {"type": "line", "stroke": "#ff3300", "strokeWidth": 3.5, "strokeDash": [11, 6]}, "encoding": {"detail": {"field": "p"}, "order": {"field": "i"}}}
]
}
